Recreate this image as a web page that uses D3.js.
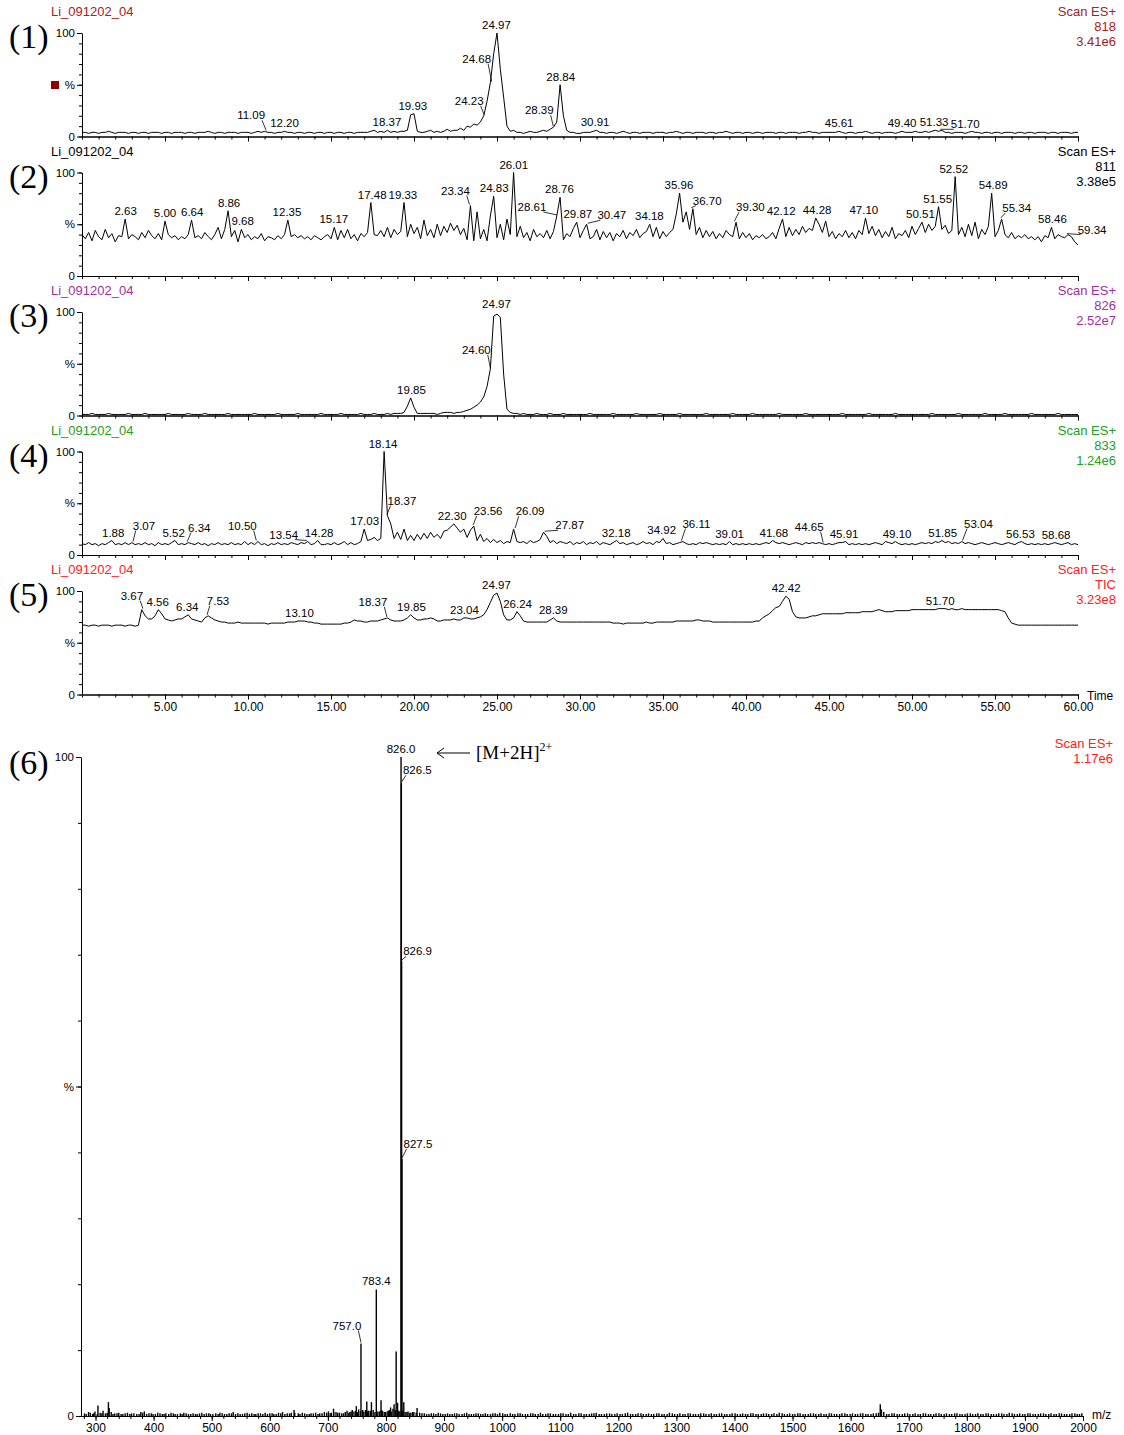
<!DOCTYPE html>
<html>
<head>
<meta charset="utf-8">
<script src="https://cdn.jsdelivr.net/npm/d3@7"></script>
<style>
  body { margin: 0; background: #fff; }
  svg { display: block; font-family: "Liberation Sans", Arial, sans-serif; }
</style>
</head>
<body>
<div id="chart"></div>
<script>
// ---- chromatogram data: relative intensity (%) sampled every 0.2 min, 0 to 60 min ----
var step = 0.2;

var eic818 = [
  4,4,3,4,4,3,4,4,5,4,3,4,4,4,3,4,4,3,4,4,3,4,4,4,3,
  4,4,3,4,4,4,3,4,4,3,4,4,4,5,4,3,4,4,3,4,4,4,3,4,4,
  4,3,4,5,4,5,4,4,3,4,4,5,4,4,3,4,4,3,4,4,3,4,4,3,4,
  4,3,4,4,3,4,4,3,4,4,4,4,5,6,4,5,4,6,4,5,4,5,5,6,21,
  22,5,4,4,5,6,4,5,4,5,7,5,6,6,8,6,10,9,12,11,14,20,34,52,80,
  100,65,38,10,5,6,4,4,3,4,5,4,4,5,6,5,7,9,14,50,20,6,4,4,3,
  3,4,4,4,5,6,4,4,3,4,4,3,4,5,4,3,4,4,3,4,4,4,3,4,4,
  4,3,4,4,5,4,3,4,4,3,4,4,4,3,4,4,3,4,4,5,4,3,4,4,3,
  4,4,3,4,4,3,4,4,4,3,4,4,3,4,4,4,3,4,4,5,4,4,3,4,4,
  4,4,4,5,4,3,4,4,3,4,4,5,4,3,4,4,3,4,4,4,3,4,5,4,4,
  4,5,4,4,5,4,5,6,5,6,4,4,3,4,4,4,3,4,5,4,4,3,4,4,3,
  4,4,3,4,4,4,3,4,4,3,4,4,3,4,4,4,3,4,4,3,4,4,4,3,4,
  4
];

var eic811 = [
  40,36,42,34,44,38,35,45,37,41,33,39,38,55,36,40,38,35,42,37,44,39,36,41,35,
  53,40,37,39,35,38,36,40,54,37,39,36,42,38,35,40,47,36,45,63,38,44,33,45,37,
  40,35,38,36,41,34,38,37,35,39,36,40,54,38,40,37,39,36,38,35,39,37,35,38,40,
  36,47,35,44,37,45,36,40,34,41,38,42,71,40,39,44,38,47,37,45,40,43,71,38,50,
  41,47,36,54,39,45,37,50,39,48,42,51,44,49,40,46,35,68,34,62,36,45,34,58,77,
  37,50,35,55,40,100,38,48,37,42,34,45,38,41,37,44,36,43,58,76,35,41,38,46,52,
  37,44,50,36,38,45,35,43,37,42,34,41,38,44,36,42,39,45,37,41,43,50,38,47,36,
  43,38,42,45,60,80,52,62,45,65,40,47,37,44,38,43,36,41,37,44,40,38,52,36,42,
  37,41,35,39,37,40,36,38,42,36,46,55,38,47,39,45,40,48,42,46,44,56,50,42,53,
  38,43,36,41,38,44,37,42,36,44,40,56,41,48,39,45,37,43,38,47,36,41,39,44,37,
  48,40,46,52,42,50,44,48,67,45,49,41,44,96,40,47,38,50,39,52,36,45,40,48,80,
  38,44,55,40,37,42,36,39,37,40,36,38,35,38,33,39,37,47,36,40,38,37,40,38,33,
  30
];

var eic826 = [
  1,1,1,2,1,1,1,1,2,1,1,1,1,1,2,1,1,1,1,2,1,1,1,1,1,
  1,2,1,1,1,1,1,2,1,1,1,1,2,1,1,1,1,1,1,2,1,1,1,1,1,
  1,1,2,1,1,1,1,1,1,2,1,1,1,1,1,2,1,1,1,1,1,1,2,1,1,
  1,1,1,2,1,1,1,1,1,2,1,1,1,2,1,1,1,2,1,2,2,2,3,9,17,
  8,2,2,2,2,2,2,1,2,3,3,3,2,3,3,4,5,6,8,10,13,18,28,45,96,
  98,95,40,6,3,2,2,1,2,1,1,1,2,1,1,1,2,1,1,1,2,1,1,1,1,
  1,1,1,2,1,1,1,1,1,1,2,1,1,1,1,1,1,2,1,1,1,1,1,1,2,
  1,1,1,1,1,2,1,1,1,1,1,1,1,2,1,1,1,1,1,1,1,2,1,1,1,
  1,1,2,1,1,1,1,1,1,1,2,1,1,1,1,1,1,1,2,1,1,1,1,1,1,
  1,1,1,1,2,1,1,1,1,1,1,1,2,1,1,1,1,1,1,1,2,1,1,1,1,
  1,1,1,1,1,1,2,1,1,1,1,1,1,1,2,1,1,1,1,1,1,1,2,1,1,
  1,1,1,2,1,1,1,1,1,1,1,2,1,1,1,1,1,1,1,2,1,1,1,1,1,
  1
];

var eic833 = [
  11,10,12,10,11,9,11,10,12,14,10,11,10,12,10,12,10,11,10,12,10,11,9,12,10,
  11,10,12,14,10,11,10,12,11,10,12,10,11,9,11,10,12,10,11,10,12,10,11,10,13,
  10,12,10,13,10,11,9,11,10,12,10,11,10,12,11,10,12,11,13,10,11,14,10,10,11,
  10,12,10,11,13,10,12,10,11,13,25,14,15,17,14,16,100,38,30,16,22,15,25,14,19,
  14,20,15,21,16,22,17,20,16,23,24,27,30,26,22,25,17,24,28,14,20,13,16,12,15,
  12,14,11,13,12,25,13,12,13,11,14,12,13,15,22,18,12,14,11,13,12,11,13,10,12,
  11,13,10,12,11,13,10,12,11,10,12,14,11,12,10,11,12,10,11,13,11,12,10,13,12,
  16,11,12,10,11,12,13,11,10,11,10,12,11,12,11,10,11,10,11,10,13,10,11,10,11,
  10,11,10,11,10,11,12,11,14,12,11,12,11,10,11,12,11,10,12,11,12,11,12,11,10,
  11,10,11,12,12,13,10,11,10,11,10,11,10,11,12,11,10,13,12,11,13,11,10,11,10,
  11,10,11,12,11,12,11,13,12,14,12,13,11,12,11,13,11,12,11,10,11,12,11,10,11,
  12,11,10,11,12,11,10,12,13,11,10,11,10,11,10,11,10,11,12,11,10,11,12,10,11,
  10
];

var ticTrace = [
  67,67,66,67,67,66,67,67,67,66,67,67,67,66,67,67,66,67,82,76,73,73,76,82,78,
  73,72,71,72,73,73,75,77,73,72,71,70,74,76,74,72,71,70,70,69,69,69,70,69,69,
  69,69,69,69,69,69,68,69,69,69,69,69,70,70,70,71,71,71,70,70,69,69,68,68,68,
  68,68,68,68,69,69,70,72,71,71,70,70,71,71,71,72,73,74,72,71,71,71,72,74,77,
  74,72,72,73,73,74,73,71,71,72,72,72,73,72,72,74,74,73,73,74,75,77,82,89,96,
  98,90,77,72,72,74,80,76,71,70,70,70,70,70,70,70,72,74,71,70,70,70,70,70,70,
  70,70,70,70,70,70,70,70,70,70,69,69,69,68,69,69,69,69,69,69,70,69,69,70,70,
  70,70,70,70,71,71,71,71,71,71,72,72,71,71,71,70,70,70,70,70,70,70,70,70,70,
  70,70,70,71,71,74,76,78,81,84,85,90,95,92,80,75,74,74,74,75,76,76,77,78,78,
  78,78,78,78,78,79,79,79,79,79,80,80,80,80,81,82,81,80,80,80,81,81,81,81,81,
  82,82,82,82,82,82,82,82,83,83,83,82,83,82,82,83,82,82,82,82,82,82,82,82,82,
  82,82,81,80,74,69,68,67,67,67,67,67,67,67,67,67,67,67,67,67,67,67,67,67,67,
  67
];

// ---- labelled peaks [time, %] ----
var peaks818 = [[11.09,5],[12.20,5],[18.37,6],[19.93,22],[24.23,20],[24.68,52],[24.97,100],
  [28.39,9],[28.84,50],[30.91,6],[45.61,5],[49.40,5],[51.33,6],[51.70,6]];
var peaks811 = [[2.63,55],[5.00,53],[6.64,54],[8.86,63],[9.68,45],[12.35,54],[15.17,47],
  [17.48,71],[19.33,71],[23.34,68],[24.83,77],[26.01,100],[28.61,58],[28.76,76],[29.87,52],
  [30.47,50],[34.18,50],[35.96,80],[36.70,65],[39.30,52],[42.12,55],[44.28,56],[47.10,56],
  [50.51,52],[51.55,67],[52.52,96],[54.89,80],[55.34,55],[58.46,47],[59.34,40]];
var peaks826 = [[19.85,17],[24.60,45],[24.97,100]];
var peaks833 = [[1.88,14],[3.07,12],[5.52,14],[6.34,12],[10.50,13],[13.54,13],[14.28,14],
  [17.03,25],[18.14,100],[18.37,38],[22.30,30],[23.56,28],[26.09,25],[27.87,22],[32.18,14],
  [34.92,16],[36.11,13],[39.01,13],[41.68,14],[44.65,11],[45.91,13],[49.10,13],[51.85,14],
  [53.04,13],[56.53,13],[58.68,12]];
var peaksTic = [[3.67,82],[4.56,82],[6.34,77],[7.53,76],[13.10,71],[18.37,74],[19.85,77],
  [23.04,74],[24.97,98],[26.24,80],[28.39,74],[42.42,95],[51.70,83]];

var sampleName = "Li_091202_04";
var channels = ["818", "811", "826", "833", "TIC"];
var channelMax = ["3.41e6", "3.38e5", "2.52e7", "1.24e6", "3.23e8"];
var timeTicks = [5, 10, 15, 20, 25, 30, 35, 40, 45, 50, 55, 60];

// ---- mass spectrum [m/z, %] ----
var msPeaks = [[304.2,1.6],[322.2,2.1],[323.5,1.2],[641.8,0.9],[709.8,1.1],[749,1.5],
  [757.0,11],[767,2.2],[775,2.1],[783.4,19.2],[791.5,2.4],[808,1.3],[814,1.8],[817.6,9.8],
  [820,2.0],[826.0,100],[826.5,96],[826.9,69],[827.5,39],[830.7,2.1],[853.6,1.2],[1651,1.8],[1653,1.0]];
var msNoise = [[281,.4],[288,.6],[295,.3],[299,.7],[308,.5],[313,.8],[317,.4],[327,.6],[333,.4],
  [340,.5],[347,.3],[355,.5],[362,.4],[371,.3],[378,.6],[384,.7],[392,.4],[399,.3],[407,.5],
  [415,.3],[421,.4],[430,.5],[437,.3],[446,.4],[452,.5],[460,.3],[468,.4],[475,.3],[483,.5],
  [491,.4],[498,.3],[507,.4],[514,.5],[522,.3],[530,.4],[537,.6],[545,.4],[553,.3],[561,.5],
  [569,.4],[576,.3],[584,.4],[592,.5],[600,.4],[607,.3],[615,.5],[622,.6],[630,.4],[637,.5],
  [649,.4],[656,.5],[664,.3],[671,.4],[679,.5],[686,.4],[694,.6],[701,.7],[706,.5],[714,.6],
  [720,.5],[727,.4],[733,.8],[738,.6],[742,.9],[745,.7],[753,1.0],[760,.9],[762,.7],[770,.8],
  [778,.9],[786,.7],[794,.8],[797,.6],[802,.7],[806,.9],[812,1.1],[822,.8],[833,.6],[838,.7],
  [843,.5],[848,.6],[858,.5],[866,.4],[874,.3],[882,.4],[890,.5],[898,.3],[906,.4],[914,.3],
  [922,.4],[931,.3],[939,.5],[947,.3],[955,.4],[963,.3],[971,.4],[980,.3],[988,.4],[996,.5],
  [1005,.3],[1014,.4],[1022,.3],[1031,.4],[1040,.3],[1049,.4],[1057,.3],[1066,.5],[1075,.3],
  [1083,.4],[1092,.3],[1101,.4],[1110,.3],[1118,.5],[1127,.3],[1136,.4],[1145,.3],[1154,.4],
  [1162,.5],[1171,.3],[1180,.4],[1189,.3],[1198,.4],[1207,.3],[1216,.5],[1225,.3],[1234,.4],
  [1243,.3],[1252,.4],[1261,.3],[1270,.4],[1279,.3],[1288,.5],[1297,.3],[1306,.4],[1315,.3],
  [1324,.4],[1333,.3],[1342,.4],[1351,.3],[1360,.4],[1369,.3],[1378,.4],[1387,.3],[1396,.4],
  [1405,.3],[1414,.4],[1423,.3],[1432,.4],[1441,.3],[1450,.4],[1459,.3],[1468,.4],[1477,.5],
  [1486,.3],[1495,.4],[1504,.3],[1513,.4],[1522,.3],[1531,.4],[1540,.3],[1549,.4],[1558,.3],
  [1567,.4],[1576,.3],[1585,.4],[1594,.3],[1603,.4],[1612,.3],[1621,.4],[1630,.3],[1639,.4],
  [1648,.5],[1657,.6],[1666,.3],[1675,.4],[1684,.3],[1693,.4],[1702,.3],[1711,.4],[1720,.3],
  [1729,.4],[1738,.3],[1747,.4],[1756,.3],[1765,.4],[1774,.3],[1783,.4],[1792,.3],[1801,.4],
  [1810,.3],[1819,.4],[1828,.3],[1837,.4],[1846,.3],[1855,.4],[1864,.3],[1873,.5],[1882,.3],
  [1891,.4],[1900,.3],[1909,.4],[1918,.3],[1927,.4],[1936,.3],[1945,.4],[1954,.3],[1963,.4],
  [1972,.3],[1981,.4],[1990,.3],[1998,.4]];
var msNoise2 = [[284,.3],[291,.5],[297,.4],[303,.3],[311,.4],[320,.5],[330,.3],[337,.4],[344,.3],
  [351,.4],[359,.3],[366,.4],[375,.3],[381,.5],[388,.3],[396,.4],[403,.3],[411,.4],[418,.3],
  [426,.3],[434,.4],[441,.3],[449,.3],[456,.4],[464,.3],[472,.3],[479,.4],[487,.3],[495,.4],
  [502,.3],[511,.3],[518,.4],[526,.3],[534,.4],[541,.3],[549,.3],[557,.4],[565,.3],[573,.3],
  [580,.4],[588,.3],[596,.3],[604,.4],[611,.3],[619,.4],[626,.3],[634,.4],[643,.5],[652,.3],
  [660,.4],[668,.3],[675,.4],[683,.3],[690,.4],[698,.5],[704,.4],[710,.6],[717,.5],[724,.4],
  [730,.6],[736,.5],[740,.7],[748,.8],[751,.6],[756,.7],[765,.9],[768,.7],[773,.8],[781,.6],
  [789,.7],[792,.9],[799,.6],[804,.8],[809,.7],[816,.9],[824,.7],[829,.8],[836,.6],[841,.5],
  [846,.6],[852,.5],[862,.4],[870,.3],[878,.4],[886,.3],[894,.4],[902,.3],[910,.3],[918,.4],
  [926,.3],[935,.4],[943,.3],[951,.3],[959,.4],[967,.3],[975,.3],[984,.4],[992,.3],[1001,.4],
  [1009,.3],[1018,.3],[1027,.4],[1035,.3],[1044,.3],[1053,.4],[1062,.3],[1070,.3],[1079,.4],
  [1088,.3],[1097,.3],[1105,.4],[1114,.3],[1123,.3],[1132,.4],[1141,.3],[1150,.3],[1158,.4],
  [1167,.3],[1176,.3],[1185,.4],[1194,.3],[1203,.3],[1212,.4],[1221,.3],[1230,.3],[1239,.4],
  [1248,.3],[1257,.3],[1266,.4],[1275,.3],[1284,.3],[1293,.4],[1302,.3],[1311,.3],[1320,.4],
  [1329,.3],[1338,.3],[1347,.4],[1356,.3],[1365,.3],[1374,.4],[1383,.3],[1392,.3],[1401,.4],
  [1410,.3],[1419,.3],[1428,.4],[1437,.3],[1446,.3],[1455,.4],[1464,.3],[1473,.3],[1482,.4],
  [1491,.3],[1500,.3],[1509,.4],[1518,.3],[1527,.3],[1536,.4],[1545,.3],[1554,.3],[1563,.4],
  [1572,.3],[1581,.3],[1590,.4],[1599,.3],[1608,.3],[1617,.4],[1626,.3],[1635,.3],[1644,.4],
  [1662,.3],[1671,.4],[1680,.3],[1689,.3],[1698,.4],[1707,.3],[1716,.3],[1725,.4],[1734,.3],
  [1743,.3],[1752,.4],[1761,.3],[1770,.3],[1779,.4],[1788,.3],[1797,.3],[1806,.4],[1815,.3],
  [1824,.3],[1833,.4],[1842,.3],[1851,.3],[1860,.4],[1869,.3],[1878,.4],[1887,.3],[1896,.3],
  [1905,.4],[1914,.3],[1923,.3],[1932,.4],[1941,.3],[1950,.3],[1959,.4],[1968,.3],[1977,.3],
  [1986,.4],[1994,.3]];
var msLabels = [[757.0,11],[783.4,19.2],[826.0,100],[826.5,96],[826.9,69],[827.5,39]];
var msTicks = [300,400,500,600,700,800,900,1000,1100,1200,1300,1400,1500,1600,1700,1800,1900,2000];

// ---- layout ----
var W = 1124, H = 1435;
var panelTop = [33, 172.5, 312, 451.5, 591], panelH = 103.5;
var panelColor = ["#a82020", "#000000", "#a030a0", "#22a022", "#ff2020"];
var serif = "'Liberation Serif', 'Times New Roman', serif";
// label text offsets [dx, dy] from the default spot above the peak
var nudge = [
  {"11.09":[-15,-8], "24.23":[-15,-7], "24.68":[-15,-16], "28.39":[-14,-9], "51.70":[25,2]},
  {"23.34":[-14,-7], "28.61":[-25,-1], "30.47":[24,-1], "36.70":[16,0], "39.30":[16,-7],
   "55.34":[16,-3], "59.34":[25,3]},
  {"24.60":[-14,-11]},
  {"3.07":[11,-9], "6.34":[12,-7], "10.50":[-14,-8], "13.54":[-23,1], "18.37":[15,-7],
   "23.56":[15,-7], "26.09":[15,-10], "27.87":[25,1], "36.11":[15,-10], "44.65":[-14,-9],
   "53.04":[16,-10]},
  {"3.67":[-11,-6], "7.53":[11,-7], "18.37":[-14,-8]}
];
var msNudge = {"826.5":[16,-5], "826.9":[16,-2], "827.5":[16,-7], "757.0":[-14,-10]};

var svg = d3.select("#chart").append("svg").attr("width", W).attr("height", H);

var x = d3.scaleLinear().domain([0, 60]).range([82, 1078]);

function drawLabels(g, list, xs, ys, offs, digits) {
  list.forEach(function(d) {
    var txt = d[0].toFixed(digits);
    var px = xs(d[0]), py = ys(d[1]);
    var off = offs[txt] || [0, 0];
    var tx = px + off[0], ty = py - 8 + off[1];
    var t = g.append("text")
      .attr("x", tx).attr("y", ty + 4)
      .attr("text-anchor", "middle")
      .attr("font-size", "11.5px")
      .attr("fill", "#000")
      .text(txt);
    if (off[0] !== 0) {
      var w = t.node().getComputedTextLength();
      var sx = off[0] < 0 ? tx + w / 2 - 3 : tx - w / 2 + 3;
      g.append("line")
        .attr("x1", sx).attr("y1", ty + 5)
        .attr("x2", px).attr("y2", py - 1)
        .attr("stroke", "#000").attr("stroke-width", 0.8);
    }
  });
}

function yAxes(g, y, left) {
  g.append("g").attr("transform", "translate(" + left + ",0)")
    .call(d3.axisLeft(y).tickValues(d3.range(0, 101, 10)).tickSize(3).tickSizeOuter(0).tickFormat(""))
    .call(function(a) { a.select(".domain").remove(); });
  g.append("g").attr("transform", "translate(" + left + ",0)")
    .call(d3.axisLeft(y).tickValues([0, 50, 100]).tickSize(5).tickSizeOuter(0).tickPadding(2)
      .tickFormat(function(v) { return v === 50 ? "%" : v; }))
    .call(function(a) {
      a.attr("font-family", null);
      a.selectAll("text").attr("font-size", "11.5px");
    });
}

var traces = [eic818, eic811, eic826, eic833, ticTrace];
var peakSets = [peaks818, peaks811, peaks826, peaks833, peaksTic];

traces.forEach(function(vals, i) {
  var top = panelTop[i], bot = top + panelH;
  var y = d3.scaleLinear().domain([0, 100]).range([bot, top]);
  var g = svg.append("g");

  // header texts
  g.append("text").attr("x", 51).attr("y", top - 17)
    .attr("font-size", "13px").attr("fill", panelColor[i]).text(sampleName);
  var right = g.append("text").attr("text-anchor", "end").attr("font-size", "13px").attr("fill", panelColor[i]);
  ["Scan ES+", channels[i], channelMax[i]].forEach(function(s, k) {
    right.append("tspan").attr("x", 1116).attr("y", top - 17 + k * 15).text(s);
  });
  g.append("text").attr("x", 9).attr("y", top + 15)
    .style("font-family", serif)
    .attr("font-size", "34px").text("(" + (i + 1) + ")");

  yAxes(g, y, 82);

  // time axis
  g.append("g").attr("transform", "translate(0," + bot + ")")
    .call(d3.axisBottom(x).tickValues(d3.range(0, 61, 1)).tickSize(3).tickSizeOuter(0).tickFormat(""));
  var major = g.append("g").attr("transform", "translate(0," + bot + ")")
    .call(d3.axisBottom(x).tickValues(timeTicks).tickSize(5).tickSizeOuter(0).tickPadding(3)
      .tickFormat(i === 4 ? d3.format(".2f") : ""));
  major.attr("font-family", null);
  major.selectAll("text").attr("font-size", "12px");
  if (i === 4) {
    g.append("text").attr("x", 1087).attr("y", bot + 5).attr("font-size", "12px").text("Time");
  }

  var line = d3.line().x(function(d, k) { return x(k * step); }).y(function(d) { return y(d); });
  g.append("path").datum(vals).attr("d", line)
    .attr("fill", "none").attr("stroke", "#000").attr("stroke-width", 1);

  drawLabels(g, peakSets[i], x, y, nudge[i], 2);
});

// small marker square in panel 1
svg.append("rect").attr("x", 51).attr("y", 81).attr("width", 8).attr("height", 8).attr("fill", "#8b0000");

// ---- mass spectrum panel ----
var mx = d3.scaleLinear().domain([275, 2000]).range([81, 1083]);
var my = d3.scaleLinear().domain([0, 100]).range([1416, 757]);
var ms = svg.append("g");

ms.append("text").attr("x", 9).attr("y", 774)
  .style("font-family", serif)
  .attr("font-size", "34px").text("(6)");
var msHead = ms.append("text").attr("text-anchor", "end").attr("font-size", "13px").attr("fill", "#ff2020");
msHead.append("tspan").attr("x", 1113).attr("y", 748).text("Scan ES+");
msHead.append("tspan").attr("x", 1113).attr("y", 763).text("1.17e6");

yAxes(ms, my, 81);

ms.append("g").attr("transform", "translate(0,1416)")
  .call(d3.axisBottom(mx).tickValues(d3.range(280, 2001, 20)).tickSize(3).tickSizeOuter(0).tickFormat(""));
var msAxis = ms.append("g").attr("transform", "translate(0,1416)")
  .call(d3.axisBottom(mx).tickValues(msTicks).tickSize(5).tickSizeOuter(0).tickPadding(2).tickFormat(d3.format("d")));
msAxis.attr("font-family", null);
msAxis.selectAll("text").attr("font-size", "12px");
ms.append("text").attr("x", 1092).attr("y", 1419).attr("font-size", "12px").text("m/z");

ms.append("g").selectAll("line").data(msNoise.concat(msNoise2, msPeaks)).enter().append("line")
  .attr("x1", function(d) { return mx(d[0]); }).attr("x2", function(d) { return mx(d[0]); })
  .attr("y1", my(0)).attr("y2", function(d) { return my(d[1]); })
  .attr("stroke", "#000").attr("stroke-width", 1.4);

drawLabels(ms, msLabels, mx, my, msNudge, 1);

// charge-state annotation
var ann = ms.append("g");
ann.append("line").attr("x1", 470).attr("y1", 753).attr("x2", 437).attr("y2", 753).attr("stroke", "#000").attr("stroke-width", 1);
ann.append("path").attr("d", "M444,748 L437,753 L444,758").attr("fill", "none").attr("stroke", "#000").attr("stroke-width", 1);
var annText = ann.append("text").attr("x", 476).attr("y", 759)
  .style("font-family", serif).attr("font-size", "19px");
annText.append("tspan").text("[M+2H]");
annText.append("tspan").attr("font-size", "12px").attr("dy", -8).text("2+");
</script>
</body>
</html>
